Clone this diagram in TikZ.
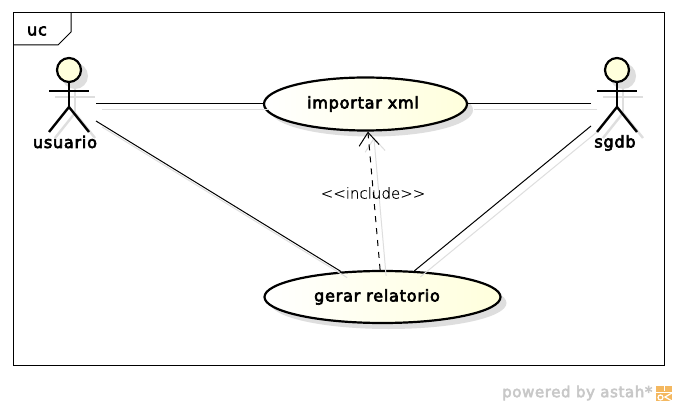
\documentclass[tikz,border=0pt]{standalone}
\usepackage{fontspec}
\usetikzlibrary{arrows.meta,shapes.geometric}
\setmainfont{DejaVu Sans}
\newfontfamily\thickfont[FakeBold=4,LetterSpace=5]{DejaVu Sans}
\newfontfamily\markfont[FakeBold=3.5,LetterSpace=4]{DejaVu Sans}
\newfontfamily\thinfont[FakeBold=0.4]{DejaVu Sans ExtraLight}
\definecolor{ucyellow}{HTML}{FFFFDC}
\definecolor{ucshadow}{HTML}{DEDEDE}
\definecolor{ucmark}{HTML}{C8C8C8}
\definecolor{ucorange}{HTML}{F4B860}
\tikzset{
	usecase/.style={ellipse, draw, line width=2.2pt, inner sep=0pt, left color=white, right color=ucyellow, font=\thickfont\fontsize{16}{18}\selectfont},
	caseshadow/.style={ellipse, fill=ucshadow, inner sep=0pt},
	actorlabel/.style={font=\thickfont\fontsize{16}{18}\selectfont, inner sep=0pt},
	linkshadow/.style={ucshadow, line width=1pt, transform canvas={xshift=6pt,yshift=-6pt}},
	link/.style={black, line width=1pt},
}
\newcommand{\stickman}[3]{
\begin{scope}[shift={#1}, line width=#3]
	\draw[#2] (-20,21) -- (20,21);
	\draw[#2] (0,12) -- (0,37);
	\draw[#2] (-20,62) -- (0,37) -- (20,62);
\end{scope}
}
\newcommand{\stickhead}[2]{
	\filldraw[line width=2.2pt, draw=black, fill=ucyellow] #1 circle (#2);
}

\begin{document}
\begin{tikzpicture}[x=1pt, y=-1pt]
	\useasboundingbox (0,0) rectangle (677,406);
	\fill[white] (0,0) rectangle (677,406);
	%frame
	\draw[line width=1pt] (13,13) rectangle (664,365);
	\draw[line width=1pt] (13,45) -- (58,45) -- (71,32) -- (71,13);
	\node[font=\thickfont\fontsize{16}{18}\selectfont, inner sep=0pt] (frametag) at (37,31) {uc};
	%shadows of the actors
	\foreach \x in {75, 623}
	{
		\stickman{(\x,76)}{ucshadow}{2.4pt}
		\fill[ucshadow] (\x,76) circle (13);
	}
	%use cases
	\node[caseshadow, minimum width=203pt, minimum height=53pt] (importarshadow) at (371.5,110) {};
	\node[caseshadow, minimum width=236pt, minimum height=52pt] (gerarshadow) at (388.5,303) {};
	\node[usecase, minimum width=203pt, minimum height=53pt] (importar) at (365.5,104) {\hspace*{-5pt}\raisebox{-1.5pt}{importar xml}};
	\node[usecase, minimum width=236pt, minimum height=52pt] (gerar) at (382.5,297) {\hspace*{-11pt}\raisebox{-1.5pt}{gerar relatorio}};
	%actors
	\foreach \x in {69, 617}
	{
		\stickman{(\x,70)}{black}{2.4pt}
		\stickhead{(\x,70)}{12}
	}
	\node[actorlabel] (usuario) at (65,142) {usuario};
	\node[actorlabel] (sgdb) at (615,143) {sgdb};
	%ends of the connectors
	\coordinate (usuariotop) at (96,104);
	\coordinate (usuariolow) at (96,121);
	\coordinate (sgdbtop) at (591,104);
	\coordinate (sgdblow) at (591,126);
	%connectors
	\foreach \a/\b in {usuariotop/importar, usuariolow/gerar, sgdbtop/importar, sgdblow/gerar}
	{
		\draw[linkshadow] (\a) -- (\b);
		\draw[link] (\a) -- (\b);
	}
	\draw[linkshadow, -{Straight Barb[length=13pt, width=20pt, line width=1pt]}] (gerar) -- (importar);
	\draw[link, dash pattern=on 6pt off 6pt, -{Straight Barb[length=13pt, width=20pt, line width=1pt, sep=0pt]}] (gerar) -- (importar);
	\node[font=\thinfont\fontsize{15}{17}\selectfont, inner sep=0pt] (include) at (373,193) {<{}<include>{}>};
	%footer
	\node[font=\markfont\fontsize{15}{17}\selectfont, text=ucmark, inner sep=0pt, anchor=west] (powered) at (502,393) {powered by astah*};
	\fill[ucorange] (656,386) rectangle (672,401);
	\draw[white, line width=1pt] (664,386) -- (664,391) (656,392) -- (672,392);
	\draw[white, line width=1.2pt] (672,393) -- (665,397) -- (672,401);
	\draw[white, line width=1.2pt] (660.5,397.5) circle (2.5);
\end{tikzpicture}
\end{document}
